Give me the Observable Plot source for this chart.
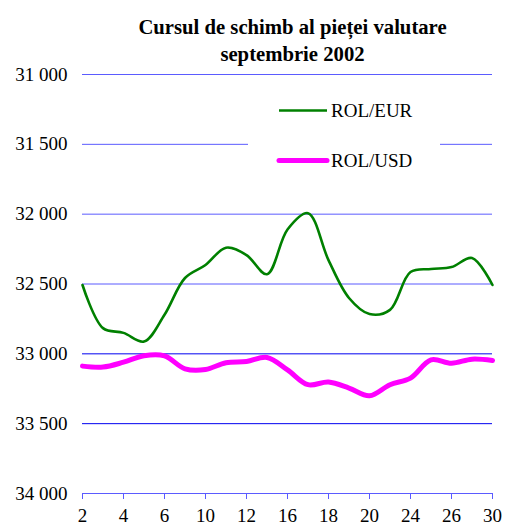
<!DOCTYPE html>
<html><head><meta charset="utf-8">
<script src="https://cdn.jsdelivr.net/npm/d3@7"></script>
<script src="https://cdn.jsdelivr.net/npm/@observablehq/plot@0.6"></script>
<style>
body{margin:0;background:#fff}
svg, svg text{font-family:"Liberation Serif","Times New Roman",serif !important;}
</style>
</head><body><div id="chart"></div>
<script>
const days = [2,3,4,5,6,9,10,11,12,13,16,17,18,19,20,23,24,25,26,27,30];
const rolEur = [32507,32816,32850,32912,32720,32457,32364,32240,32293,32430,32110,31993,32329,32600,32715,32685,32414,32393,32379,32314,32507];
const rolUsd = [33088,33095,33060,33014,33015,33107,33112,33064,33055,33026,33115,33221,33202,33245,33300,33221,33174,33043,33067,33038,33048];
const yTicks = [31000,31500,32000,32500,33000,33500,34000];
const xTickIndex = days.map((d,i)=>i).filter(i=>i%2===0);
const seriesNames = ["ROL/EUR","ROL/USD"];
const seriesColors = ["#008000","#ff00ff"];
const titleLines = ["Cursul de schimb al pieței valutare","septembrie 2002"];

const eurData = days.map((d,i)=>({i, day:d, v:rolEur[i]}));
const usdData = days.map((d,i)=>({i, day:d, v:rolUsd[i]}));
const fmt = d => d3.format(",")(d).replace(/,/g," ");
const font = "'Liberation Serif','Times New Roman',serif";

const plot = Plot.plot({
  width:511, height:526, marginLeft:82, marginRight:19, marginTop:74, marginBottom:33,
  style:{fontFamily:font, fontSize:"19px", color:"#000", background:"#fff"},
  x:{domain:[0, days.length-1]},
  y:{domain:[31000,34000], reverse:true},
  marks:[
    Plot.ruleY(yTicks.filter(t=>t<33000), {stroke:"#5b5bff", strokeWidth:1}),
    Plot.ruleY(yTicks.filter(t=>t>=33000 && t<34000), {stroke:"#0000f0", strokeWidth:1}),
    Plot.ruleY([34000], {stroke:"#5b5bff", strokeWidth:1.2}),
    Plot.axisY({ticks:yTicks, tickSize:0, tickPadding:15, tickFormat:fmt, fontSize:19, label:null}),
    Plot.axisX({ticks:xTickIndex, tickSize:6, tickPadding:9, tickFormat:i=>days[i], stroke:"#5b5bff", fontSize:19, label:null}),
    Plot.line(usdData, {x:"i", y:"v", stroke:seriesColors[1], strokeWidth:5, curve:"catmull-rom"}),
    Plot.line(eurData, {x:"i", y:"v", stroke:seriesColors[0], strokeWidth:2.6, curve:"catmull-rom"}),
    Plot.text([titleLines[0]], {frameAnchor:"top", dx:5, dy:-55, text:d=>d, fontWeight:"bold", fontSize:20.7}),
    Plot.text([titleLines[1]], {frameAnchor:"top", dx:5, dy:-28, text:d=>d, fontWeight:"bold", fontSize:20.7})
  ]
});
document.getElementById("chart").appendChild(plot);

const svg = d3.select(plot);
const lg = svg.append("g").attr("text-anchor","start");
lg.append("rect").attr("x",248).attr("y",90).attr("width",192).attr("height",90).attr("fill","#fff");
const legendY = [110.5, 160.5];
const legendW = [2.6, 5];
seriesNames.forEach((name,i)=>{
  lg.append("line").attr("x1",279).attr("x2",327).attr("y1",legendY[i]).attr("y2",legendY[i])
    .attr("stroke",seriesColors[i]).attr("stroke-width",legendW[i]).attr("stroke-linecap",i?"round":"butt");
  lg.append("text").attr("x",331).attr("y",legendY[i]).attr("dy","0.34em").attr("text-anchor","start")
    .attr("font-size",19).attr("fill","#000").text(name);
});
</script></body></html>
